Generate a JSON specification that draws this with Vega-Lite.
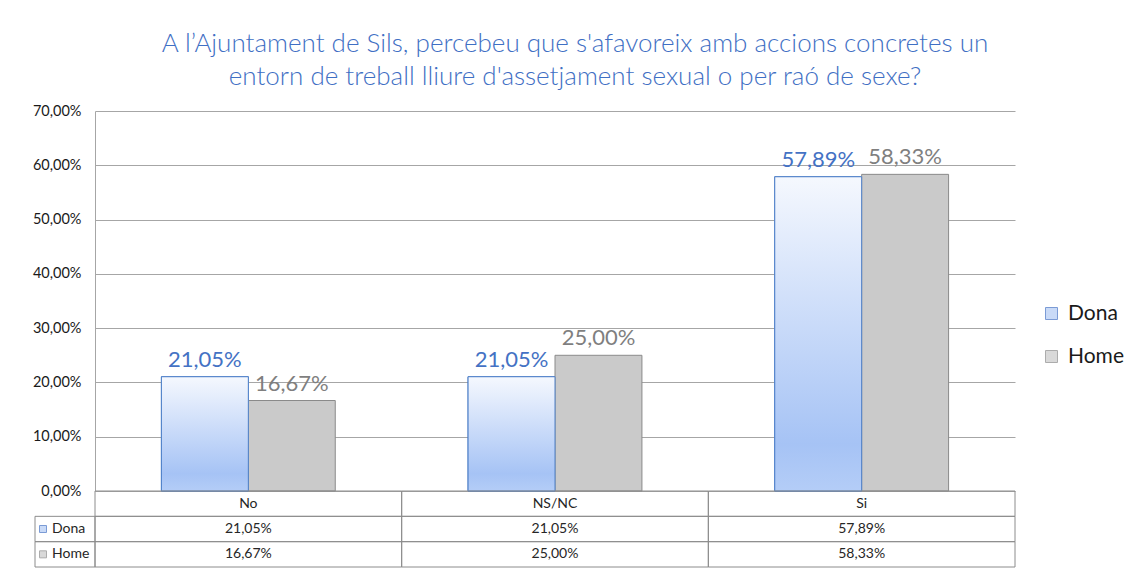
{
  "$schema": "https://vega.github.io/schema/vega-lite/v6.json",
  "width": 920,
  "height": 456,
  "autosize": "none",
  "padding": {"left": 95, "top": 111, "right": 118, "bottom": 3},
  "background": "white",
  "title": {
    "text": ["A l’Ajuntament de Sils, percebeu que s'afavoreix amb accions concretes un", "entorn de treball lliure d'assetjament sexual o per raó de sexe?"],
    "fontSize": 26,
    "font": "Lato",
    "fontWeight": 300,
    "color": "#3f6fc4",
    "anchor": "middle",
    "dx": 20,
    "offset": 13,
    "lineHeight": 33
  },
  "data": {
    "values": [
      {"cat": "No", "g": "Dona", "v": 0.2105},
      {"cat": "No", "g": "Home", "v": 0.1667},
      {"cat": "NS/NC", "g": "Dona", "v": 0.2105},
      {"cat": "NS/NC", "g": "Home", "v": 0.25},
      {"cat": "Si", "g": "Dona", "v": 0.5789},
      {"cat": "Si", "g": "Home", "v": 0.5833}
    ]
  },
  "resolve": {"scale": {"x": "independent", "y": "independent"}, "axis": {"x": "independent", "y": "independent"}},
  "layer": [
    {
      "encoding": {
        "x": {"field": "cat", "type": "nominal", "sort": ["No", "NS/NC", "Si"], "scale": {"paddingInner": 0, "paddingOuter": 0}, "axis": null},
        "xOffset": {"field": "g", "type": "nominal", "scale": {"domain": ["Dona", "Home"], "paddingInner": 0, "paddingOuter": 0.764}},
        "y": {"field": "v", "type": "quantitative", "scale": {"domain": [0, 0.7], "nice": false, "range": [380, 0]},
          "axis": {"values": [0, 0.1, 0.2, 0.3, 0.4, 0.5, 0.6, 0.7], "format": ".2%", "title": null, "ticks": false, "grid": true, "gridColor": "#a6a6a6", "domainColor": "#a6a6a6", "labelFont": "Lato", "labelFontSize": 14.5, "labelColor": "#1a1a1a", "labelPadding": 14}}
      },
      "layer": [
        {
          "mark": {"type": "bar", "strokeWidth": 1},
          "encoding": {
            "color": {"field": "g", "type": "nominal", "scale": {"domain": ["Dona", "Home"], "range": ["#b3cbf4", "#cacaca"]}, "legend": {"title": null}},
            "stroke": {"field": "g", "type": "nominal", "scale": {"domain": ["Dona", "Home"], "range": ["#4472c4", "#8a8a8a"]}, "legend": {"title": null}}
          }
        },
        {
          "transform": [{"filter": "datum.g === 'Dona'"}],
          "mark": {"type": "bar", "stroke": "#4f81c9", "strokeWidth": 1,
            "fill": {"gradient": "linear", "x1": 0, "y1": 0, "x2": 0, "y2": 1, "stops": [{"offset": 0, "color": "#f5f8fe"}, {"offset": 0.85, "color": "#a6c3f5"}, {"offset": 1, "color": "#b4cdf7"}]}}
        },
        {
          "mark": {"type": "text", "font": "Lato", "fontSize": 22, "baseline": "alphabetic", "dy": -10},
          "encoding": {
            "text": {"field": "v", "type": "quantitative", "format": ".2%"},
            "color": {"condition": {"test": "datum.g === 'Dona'", "value": "#4472c4"}, "value": "#7f7f7f"}
          }
        }
      ]
    },
    {
      "encoding": {
        "x": {"field": "cat", "type": "nominal", "sort": ["No", "NS/NC", "Si"], "scale": {"paddingInner": 0, "paddingOuter": 0}, "axis": null}
      },
      "layer": [
        {
          "mark": {"type": "rect", "fill": "white", "fillOpacity": 0, "stroke": "#8c8c8c", "strokeWidth": 1},
          "encoding": {
            "y": {"field": "g", "type": "nominal", "scale": {"domain": ["cat", "Dona", "Home"], "range": [380, 456], "paddingInner": 0, "paddingOuter": 0}, "axis": null}
          }
        },
        {
          "transform": [{"filter": "datum.g === 'Dona'"}],
          "mark": {"type": "rect", "fill": "white", "fillOpacity": 0, "stroke": "#8c8c8c", "strokeWidth": 1},
          "encoding": {
            "y": {"datum": "cat", "type": "nominal", "scale": {"domain": ["cat", "Dona", "Home"], "range": [380, 456], "paddingInner": 0, "paddingOuter": 0}, "axis": null}
          }
        },
        {
          "mark": {"type": "text", "font": "Lato", "fontSize": 14, "color": "#262626"},
          "encoding": {
            "y": {"field": "g", "type": "nominal", "scale": {"domain": ["cat", "Dona", "Home"], "range": [380, 456], "paddingInner": 0, "paddingOuter": 0}, "axis": null},
            "text": {"field": "v", "type": "quantitative", "format": ".2%"}
          }
        },
        {
          "transform": [{"filter": "datum.g === 'Dona'"}],
          "mark": {"type": "text", "font": "Lato", "fontSize": 14, "color": "#262626"},
          "encoding": {
            "y": {"datum": "cat", "type": "nominal", "scale": {"domain": ["cat", "Dona", "Home"], "range": [380, 456], "paddingInner": 0, "paddingOuter": 0}, "axis": null},
            "text": {"field": "cat", "type": "nominal"}
          }
        }
      ]
    },
    {
      "transform": [{"filter": "datum.cat === 'No'"}],
      "encoding": {
        "x": {"datum": "hdr", "type": "nominal", "scale": {"range": [-60, 0], "paddingInner": 0, "paddingOuter": 0}, "axis": null},
        "y": {"field": "g", "type": "nominal", "scale": {"domain": ["cat", "Dona", "Home"], "range": [380, 456], "paddingInner": 0, "paddingOuter": 0}, "axis": null}
      },
      "layer": [
        {
          "mark": {"type": "rect", "fill": "white", "fillOpacity": 0, "stroke": "#8c8c8c", "strokeWidth": 1}
        },
        {
          "mark": {"type": "point", "shape": "square", "size": 49, "filled": true, "xOffset": -22, "strokeWidth": 1},
          "encoding": {
            "color": {"field": "g", "type": "nominal", "scale": {"domain": ["Dona", "Home"], "range": ["#b3cbf4", "#cacaca"]}, "legend": {"title": null}},
            "stroke": {"field": "g", "type": "nominal", "scale": {"domain": ["Dona", "Home"], "range": ["#4472c4", "#8a8a8a"]}, "legend": {"title": null}}
          }
        },
        {
          "mark": {"type": "text", "font": "Lato", "fontSize": 14, "color": "#262626", "align": "left", "dx": -13},
          "encoding": {"text": {"field": "g", "type": "nominal"}}
        }
      ]
    }
  ],
  "config": {
    "locale": {"number": {"decimal": ",", "thousands": ".", "grouping": [3], "currency": ["", " €"]}},
    "view": {"stroke": null},
    "legend": {
      "orient": "none",
      "legendX": 946,
      "legendY": 192,
      "symbolType": "square",
      "symbolSize": 144,
      "symbolStrokeWidth": 1,
      "labelFont": "Lato",
      "labelFontSize": 21,
      "labelColor": "#1a1a1a",
      "labelOffset": 6,
      "rowPadding": 21
    }
  }
}
